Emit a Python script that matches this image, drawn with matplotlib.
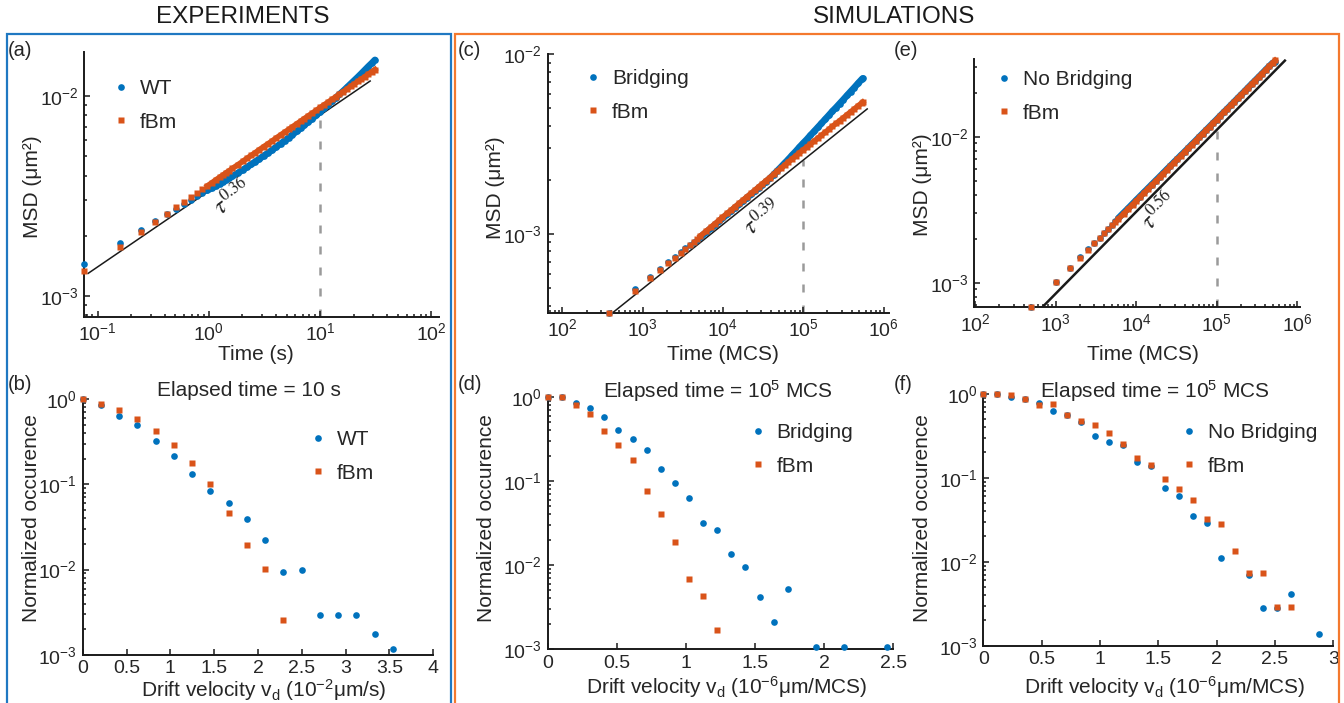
import numpy as np
import matplotlib
matplotlib.use("Agg")
import matplotlib.pyplot as plt
from matplotlib.ticker import LogLocator, NullFormatter, FormatStrFormatter, MultipleLocator, LogFormatterSciNotation
from matplotlib.patches import Rectangle

plt.rcParams['font.family'] = ['Liberation Sans', 'DejaVu Sans']
plt.rcParams['mathtext.fontset'] = 'custom'
plt.rcParams['mathtext.rm'] = 'Liberation Sans'
plt.rcParams['mathtext.it'] = 'Liberation Sans:italic'
plt.rcParams['mathtext.bf'] = 'Liberation Sans:bold'

# ---------------- data ----------------
# (a) experiments MSD, values in 1e-3 um^2
time_a = [0.0759, 0.1583, 0.2435, 0.3305, 0.4189, 0.5083, 0.5985, 0.6900, 0.7815, 0.8739,
          0.9670, 1.0605, 1.1545, 1.2489, 1.3440, 1.4393, 1.5346, 1.6310, 1.8234, 2.0176,
          2.2131, 2.4094, 2.6073, 2.8036, 3.1024, 3.4020, 3.7050, 4.0067, 4.4145, 4.8229,
          5.2335, 5.6441, 6.1631, 6.6819, 7.2044, 7.8343, 8.4723, 9.2120, 10.06, 10.92,
          11.78, 12.75, 13.84, 14.93, 16.13, 17.45, 18.78, 20.22, 21.78, 23.46, 25.25,
          27.16, 29.21, 31.14]
msd_a_wt = [1.435, 1.841, 2.133, 2.366, 2.553, 2.716, 2.864, 3.006, 3.141, 3.266,
            3.365, 3.459, 3.548, 3.639, 3.724, 3.802, 3.882, 3.963,
            4.121, 4.266, 4.416, 4.550, 4.688, 4.819,
            5.012, 5.188, 5.370, 5.546, 5.768, 5.984,
            6.194, 6.412, 6.653, 6.902, 7.145, 7.430, 7.691, 8.017, 8.356,
            8.690, 9.036, 9.397, 9.795, 10.19, 10.59, 11.04, 11.48,
            11.94, 12.42, 12.94, 13.49, 14.06, 14.62, 15.17]
msd_a_fbm = [1.327, 1.762, 2.084, 2.344, 2.570, 2.767, 2.944, 3.112, 3.266, 3.412,
             3.548, 3.673, 3.802, 3.917, 4.027, 4.140, 4.236, 4.345,
             4.529, 4.710, 4.887, 5.047, 5.200, 5.358,
             5.572, 5.768, 5.957, 6.152, 6.383, 6.607,
             6.808, 7.015, 7.261, 7.482, 7.709, 7.962, 8.204, 8.472, 8.770,
             9.057, 9.311, 9.616, 9.908, 10.21, 10.52, 10.84, 11.17,
             11.48, 11.83, 12.16, 12.50, 12.88, 13.24, 13.58]
guide_a_t = [0.0823, 28.2]
guide_a_msd = [1.294e-3, 1.189e-2]
elapsed_a = 10
elapsed_a_top = 8.04e-3

# (c) simulations with bridging, values in 1e-3 um^2
time_c = [384, 795, 1217, 1646, 2080, 2519, 2962, 3408, 3856, 4308, 4761, 5216, 6133, 7055,
          7982, 8916, 9856, 11270, 12695, 14125, 16043, 17972, 19918, 22354, 24802, 27762,
          30734, 34218, 38222, 42740, 47287, 52880, 58502, 65163, 72361, 80704, 89528, 99471,
          110520, 122690, 136530, 151430, 168080, 187020, 207580, 230470, 256220, 284270,
          315790, 350900, 389300, 432510, 480390, 533700, 549660]
msd_c_bridging = [0.365, 0.492, 0.578, 0.641, 0.698, 0.745, 0.793, 0.832, 0.871, 0.906,
                  0.929, 0.962, 1.021, 1.076, 1.127, 1.175, 1.222, 1.285, 1.343, 1.400,
                  1.466, 1.531, 1.592, 1.660, 1.726, 1.803, 1.871, 1.950, 2.037, 2.143,
                  2.244, 2.360, 2.477, 2.600, 2.742, 2.884, 3.041, 3.199, 3.357, 3.540,
                  3.724, 3.917, 4.121, 4.345, 4.571, 4.819, 5.058, 5.321, 5.598, 5.902,
                  6.209, 6.531, 6.887, 7.244, 7.345]
msd_c_fbm = [0.365, 0.482, 0.571, 0.631, 0.690, 0.738, 0.787, 0.828, 0.869, 0.906,
             0.942, 0.975, 1.035, 1.091, 1.143, 1.191, 1.239, 1.303, 1.361, 1.419,
             1.486, 1.552, 1.614, 1.683, 1.750, 1.828, 1.897, 1.977, 2.061, 2.148,
             2.234, 2.328, 2.415, 2.518, 2.618, 2.723, 2.831, 2.938, 3.048, 3.170,
             3.289, 3.412, 3.540, 3.681, 3.819, 3.972, 4.121, 4.276, 4.436, 4.613,
             4.786, 4.966, 5.164, 5.358, 5.420]
guide_c_t = [423, 6.26e5]
guide_c_msd = [3.65e-4, 4.966e-3]
elapsed_sim = 1e5
elapsed_c_top = 2.576e-3

# (e) simulations without bridging, values in 1e-3 um^2
time_e = [500, 1000, 1500, 2000, 2500, 3000, 3500, 4000, 4500, 5000, 5500, 6000, 7000, 8000, 9000,
          10000, 11000, 12500, 14000, 15500, 17500, 19500, 21500, 24000, 26500, 29500, 32500,
          36000, 40000, 44500, 49000, 54500, 60000, 66500, 73500, 81500, 90000, 99500, 110000,
          121500, 134500, 148500, 164000, 181500, 200500, 221500, 245000, 270500, 299000,
          330500, 365000, 403500, 446000, 493000, 530000]
msd_e_nobridging = [0.684, 1.005, 1.268, 1.490, 1.690, 1.872, 2.040, 2.198, 2.352, 2.500,
                    2.636, 2.768, 3.015, 3.245, 3.468, 3.680, 3.880, 4.165, 4.430, 4.690,
                    5.012, 5.318, 5.618, 5.975, 6.310, 6.697, 7.058, 7.470, 7.905, 8.385,
                    8.858, 9.377, 9.905, 10.49, 11.08, 11.73, 12.40, 13.10, 13.88, 14.67,
                    15.50, 16.38, 17.31, 18.33, 19.37, 20.47, 21.69, 22.92, 24.22, 25.60,
                    27.05, 28.65, 30.28, 31.95, 32.60]
msd_e_fbm = [0.684, 1.005, 1.262, 1.479, 1.679, 1.858, 2.023, 2.178, 2.328, 2.472,
             2.606, 2.735, 2.979, 3.206, 3.428, 3.639, 3.837, 4.121, 4.385, 4.645,
             4.966, 5.272, 5.572, 5.929, 6.266, 6.653, 7.015, 7.430, 7.870, 8.356,
             8.831, 9.354, 9.886, 10.47, 11.07, 11.72, 12.39, 13.09, 13.87, 14.66,
             15.49, 16.37, 17.30, 18.32, 19.36, 20.46, 21.68, 22.91, 24.21, 25.59,
             27.04, 28.64, 30.27, 31.99, 33.34]
guide_e_t = [678, 7.01e5]
guide_e_msd = [6.78e-4, 3.32e-2]
elapsed_e_top = 1.114e-2

# index from which the sampled MSD points are so dense that they merge into a band
dense_from_a = 10
dense_from_c = 11
dense_from_e = 11

# (b) drift velocity distribution, experiments
vd_b_wt = [0, 0.205, 0.418, 0.624, 0.833, 1.038, 1.247, 1.456, 1.665, 1.875, 2.084, 2.289,
           2.498, 2.707, 2.916, 3.122, 3.331, 3.540]
occ_b_wt = [1.0, 0.85, 0.627, 0.491, 0.325, 0.213, 0.132, 0.0841, 0.0609, 0.0392, 0.0221,
            0.00928, 0.00989, 0.00291, 0.00291, 0.00291, 0.00174, 0.00116]
vd_b_fbm = [0, 0.205, 0.418, 0.624, 0.833, 1.038, 1.247, 1.456, 1.665, 1.875, 2.084, 2.289]
occ_b_fbm = [1.0, 0.873, 0.736, 0.578, 0.418, 0.286, 0.176, 0.100, 0.0457, 0.0193, 0.0101, 0.00255]

# (d) drift velocity distribution, bridging
vd_d_br = [0, 0.104, 0.205, 0.307, 0.408, 0.512, 0.614, 0.717, 0.819, 0.920, 1.022, 1.126,
           1.227, 1.329, 1.430, 1.534, 1.635, 1.737, 1.942, 2.147, 2.452]
occ_d_br = [1.0, 0.99, 0.841, 0.746, 0.583, 0.401, 0.316, 0.234, 0.139, 0.0938, 0.0622, 0.0316,
            0.0264, 0.0136, 0.00937, 0.0042, 0.0021, 0.00522, 0.00105, 0.00105, 0.00105]
vd_d_fbm = [0, 0.104, 0.205, 0.307, 0.408, 0.512, 0.614, 0.717, 0.819, 0.920, 1.022, 1.126, 1.227]
occ_d_fbm = [1.0, 0.99, 0.796, 0.622, 0.39, 0.266, 0.176, 0.0753, 0.0401, 0.0186, 0.00675,
             0.00424, 0.00167]

# (f) drift velocity distribution, no bridging
vd_f_nb = [0, 0.12, 0.24, 0.36, 0.48, 0.60, 0.72, 0.84, 0.96, 1.08, 1.20, 1.32, 1.44, 1.56,
           1.68, 1.80, 1.92, 2.04, 2.28, 2.40, 2.52, 2.64, 2.88]
occ_f_nb = [1.0, 1.0, 0.921, 0.865, 0.768, 0.628, 0.557, 0.46, 0.313, 0.266, 0.243, 0.154,
            0.137, 0.0753, 0.060, 0.035, 0.0292, 0.0111, 0.00695, 0.00279, 0.00279, 0.00412,
            0.00138]
vd_f_fbm = [0, 0.12, 0.24, 0.36, 0.48, 0.60, 0.72, 0.84, 0.96, 1.08, 1.20, 1.32, 1.44, 1.56,
            1.68, 1.80, 1.92, 2.04, 2.16, 2.28, 2.40, 2.52, 2.64]
occ_f_fbm = [1.0, 0.99, 0.955, 0.857, 0.728, 0.747, 0.552, 0.477, 0.42, 0.338, 0.25, 0.17,
             0.14, 0.0957, 0.0728, 0.0538, 0.032, 0.0279, 0.0133, 0.00728, 0.00728, 0.00291,
             0.00291]

# ---------------- style ----------------
BLUE = '#0072BD'
ORANGE = '#D95319'
TXT = '#262626'
FRAME_BLUE = '#1f78c2'
FRAME_ORANGE = '#f4792e'
GREY = '#9a9a9a'
MS_DOT = 4.8
MS_SQ = 3.9

W, H = 1344, 703
fig = plt.figure(figsize=(W / 100, H / 100), dpi=100)


def add_ax(l, t, r, b):
    return fig.add_axes([l / W, 1 - b / H, (r - l) / W, (b - t) / H])


def style(ax):
    ax.spines[['top', 'right']].set_visible(False)
    for s in ('left', 'bottom'):
        ax.spines[s].set_linewidth(1.4)
        ax.spines[s].set_color('#1a1a1a')
    ax.tick_params(which='both', direction='in', color='#1a1a1a', labelcolor=TXT,
                   labelsize=14, width=1.1, pad=4)
    ax.tick_params(which='major', length=4.5)
    ax.tick_params(which='minor', length=2.5)
    ax.set_facecolor('none')


def log_axis(axis):
    axis.set_major_locator(LogLocator(base=10, numticks=12))
    axis.set_minor_locator(LogLocator(base=10, subs=np.arange(2, 10), numticks=12))
    axis.set_major_formatter(LogFormatterSciNotation())
    axis.set_minor_formatter(NullFormatter())


def place_labels(ax, xl, xpos, yl, ypos):
    pos = ax.get_position()

    def to_ax(px, py):
        return ((px / W - pos.x0) / pos.width, ((1 - py / H) - pos.y0) / pos.height)
    ax.set_xlabel(xl, fontsize=15, color=TXT, va='center', ha='center')
    ax.xaxis.set_label_coords(*to_ax(*xpos))
    ax.set_ylabel(yl, fontsize=15, color=TXT, va='center', ha='center')
    ax.yaxis.set_label_coords(*to_ax(*ypos))


def legend_at(ax, mx, my):
    fs_px = 15 * 100 / 72
    ax.legend(loc='upper left', bbox_to_anchor=((mx - 0.5 * fs_px) / W, 1 - (my - 6) / H),
              bbox_transform=fig.transFigure, frameon=False, fontsize=15, handlelength=1.0,
              handletextpad=0.4, labelspacing=0.7, borderpad=0, borderaxespad=0,
              labelcolor=TXT, numpoints=1)


def dots(ax, x, y, label, dense_from=None):
    if dense_from is not None:
        ax.plot(x[dense_from:], y[dense_from:], '-', color=BLUE, lw=MS_DOT,
                solid_capstyle='round', solid_joinstyle='round', clip_on=False, zorder=3)
    ax.plot(x, y, 'o', color=BLUE, ms=MS_DOT, mec='none', label=label, clip_on=False, zorder=3)


def squares(ax, x, y, label, dense_from=None):
    if dense_from is not None:
        ax.plot(x[dense_from:], y[dense_from:], '-', color=ORANGE, lw=MS_SQ,
                solid_capstyle='projecting', solid_joinstyle='miter', clip_on=False, zorder=4)
    ax.plot(x, y, 's', color=ORANGE, ms=MS_SQ, mec='none', label=label, clip_on=False, zorder=4)


TAU_KW = dict(ha='center', va='center', fontsize=17, color=TXT, math_fontfamily='stix')

# ---------------- (a) ----------------
ax = add_ax(84.3, 52.1, 439.3, 316.7)
style(ax)
ax.set_xscale('log'); ax.set_yscale('log')
ax.set_xlim(0.076, 118); ax.set_ylim(7.85e-4, 0.0166)
log_axis(ax.xaxis); log_axis(ax.yaxis)
ax.plot([elapsed_a, elapsed_a], [7.85e-4, elapsed_a_top], color=GREY, lw=1.8, dashes=(3.2, 5.2), zorder=1)
ax.plot(guide_a_t, guide_a_msd, color='#1a1a1a', lw=1.1, zorder=2)
dots(ax, time_a, np.array(msd_a_wt) * 1e-3, 'WT', dense_from_a)
squares(ax, time_a, np.array(msd_a_fbm) * 1e-3, 'fBm', dense_from_a)
legend_at(ax, 121, 85)
place_labels(ax, 'Time (s)', (256, 354), 'MSD (μm²)', (33, 187))
fig.text(233 / W, 1 - 198 / H, r'$\tau^{0.36}$', rotation=36, **TAU_KW)

# ---------------- (c) ----------------
ax = add_ax(547.7, 54.3, 889.3, 312.7)
style(ax)
ax.set_xscale('log'); ax.set_yscale('log')
ax.set_xlim(65.6, 1.18e6); ax.set_ylim(3.65e-4, 1e-2)
log_axis(ax.xaxis); log_axis(ax.yaxis)
ax.plot([elapsed_sim, elapsed_sim], [3.65e-4, elapsed_c_top], color=GREY, lw=1.8, dashes=(3.2, 5.2), zorder=1)
ax.plot(guide_c_t, guide_c_msd, color='#1a1a1a', lw=1.1, zorder=2)
dots(ax, time_c, np.array(msd_c_bridging) * 1e-3, 'Bridging', dense_from_c)
squares(ax, time_c, np.array(msd_c_fbm) * 1e-3, 'fBm', dense_from_c)
legend_at(ax, 593, 75)
place_labels(ax, 'Time (MCS)', (723, 354), 'MSD (μm²)', (495, 188))
fig.text(763 / W, 1 - 218 / H, r'$\tau^{0.39}$', rotation=38, **TAU_KW)

# ---------------- (e) ----------------
ax = add_ax(974, 59.3, 1300, 307.3)
style(ax)
ax.set_xscale('log'); ax.set_yscale('log')
ax.set_xlim(96.6, 1.08e6); ax.set_ylim(6.79e-4, 0.0339)
log_axis(ax.xaxis); log_axis(ax.yaxis)
ax.plot([elapsed_sim, elapsed_sim], [6.79e-4, elapsed_e_top], color=GREY, lw=1.8, dashes=(3.2, 5.2), zorder=1)
ax.plot(guide_e_t, guide_e_msd, color='#1a1a1a', lw=1.8, zorder=2)
dots(ax, time_e, np.array(msd_e_nobridging) * 1e-3, 'No Bridging', dense_from_e)
squares(ax, time_e, np.array(msd_e_fbm) * 1e-3, 'fBm', dense_from_e)
legend_at(ax, 1004, 76)
place_labels(ax, 'Time (MCS)', (1143, 354), 'MSD (μm²)', (923, 185))
fig.text(1160 / W, 1 - 211 / H, r'$\tau^{0.56}$', rotation=45, **TAU_KW)

# ---------------- (b) ----------------
ax = add_ax(82.7, 397.5, 433.3, 654.9)
style(ax)
ax.set_yscale('log')
ax.set_xlim(0, 4); ax.set_ylim(1e-3, 1.04)
log_axis(ax.yaxis)
ax.xaxis.set_major_locator(MultipleLocator(0.5))
ax.xaxis.set_major_formatter(FormatStrFormatter('%g'))
dots(ax, vd_b_wt, occ_b_wt, 'WT')
squares(ax, vd_b_fbm, occ_b_fbm, 'fBm')
legend_at(ax, 318, 436)
place_labels(ax, r'Drift velocity v$_\mathregular{d}$ (10$^{\mathregular{-2}}$μm/s)', (264, 690),
             'Normalized occurence', (32, 518))
fig.text(249 / W, 1 - 391 / H, 'Elapsed time = 10 s', ha='center', va='center', fontsize=15, color=TXT)

# ---------------- (d) ----------------
ax = add_ax(547.7, 395.9, 893.2, 649.0)
style(ax)
ax.set_yscale('log')
ax.set_xlim(0, 2.5); ax.set_ylim(1e-3, 1.03)
log_axis(ax.yaxis)
ax.xaxis.set_major_locator(MultipleLocator(0.5))
ax.xaxis.set_major_formatter(FormatStrFormatter('%g'))
dots(ax, vd_d_br, occ_d_br, 'Bridging')
squares(ax, vd_d_fbm, occ_d_fbm, 'fBm')
legend_at(ax, 758, 429)
place_labels(ax, r'Drift velocity v$_\mathregular{d}$ (10$^{\mathregular{-6}}$μm/MCS)', (727, 687),
             'Normalized occurence', (487, 518))
fig.text(718 / W, 1 - 391 / H, r'Elapsed time = 10$^{\mathregular{5}}$ MCS', ha='center', va='center',
         fontsize=15, color=TXT)

# ---------------- (f) ----------------
ax = add_ax(983.3, 392.6, 1333.3, 645.7)
style(ax)
ax.set_yscale('log')
ax.set_xlim(0, 3); ax.set_ylim(1e-3, 1.03)
log_axis(ax.yaxis)
ax.xaxis.set_major_locator(MultipleLocator(0.5))
ax.xaxis.set_major_formatter(FormatStrFormatter('%g'))
dots(ax, vd_f_nb, occ_f_nb, 'No Bridging')
squares(ax, vd_f_fbm, occ_f_fbm, 'fBm')
legend_at(ax, 1189, 429)
place_labels(ax, r'Drift velocity v$_\mathregular{d}$ (10$^{\mathregular{-6}}$μm/MCS)', (1165, 687),
             'Normalized occurence', (922, 518))
fig.text(1155 / W, 1 - 391 / H, r'Elapsed time = 10$^{\mathregular{5}}$ MCS', ha='center', va='center',
         fontsize=15, color=TXT)

# ---------------- frames, headers, panel letters ----------------
fig.add_artist(Rectangle((7 / W, -0.05), (451 - 7) / W, 1.05 - 34 / H, transform=fig.transFigure,
                         fill=False, ec=FRAME_BLUE, lw=1.6))
fig.add_artist(Rectangle((454.5 / W, -0.05), (1339 - 454.5) / W, 1.05 - 34 / H,
                         transform=fig.transFigure, fill=False, ec=FRAME_ORANGE, lw=1.6))
fig.text(243 / W, 1 - 17 / H, 'EXPERIMENTS', ha='center', va='center', fontsize=17.5, color='#1a1a1a')
fig.text(894 / W, 1 - 17 / H, 'SIMULATIONS', ha='center', va='center', fontsize=17.5, color='#1a1a1a')
for lab, x, y in [('(a)', 8, 50), ('(b)', 8, 385), ('(c)', 458, 50), ('(d)', 458, 385),
                  ('(e)', 894, 50), ('(f)', 894, 384)]:
    fig.text(x / W, 1 - y / H, lab, ha='left', va='center', fontsize=14.5, color=TXT)

fig.savefig('out.png', dpi=100, facecolor='white')
